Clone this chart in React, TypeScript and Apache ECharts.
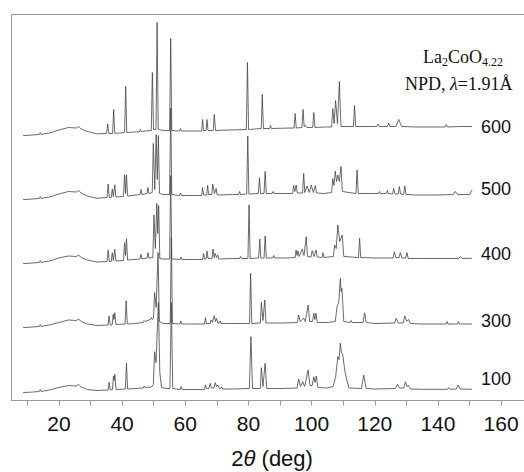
import React, { useEffect, useRef } from "react";
import * as echarts from "echarts";

// 2θ (deg) vs intensity (arbitrary units, relative to each trace's offset)
const traceNames = ["600", "500", "400", "300", "100"];
const traceOffsets = [265, 201, 137, 73, 8];
const labelShift = [0, -1, -4, -3.5, -10];

const xTicks = [10, 20, 30, 40, 50, 60, 70, 80, 90, 100, 110, 120, 130, 140, 150, 160];
const xTickLabels = [20, 40, 60, 80, 100, 120, 140, 160];

const trace600: [number, number][] = [
  [8.7,0],[11,0.3],[13.8,1],[14.1,3],[14.4,1],[17,2.5],[20,5.5],[23,8],[25.5,7.5],[26.3,9],[27,6.5],[29,4],[32,1.7],
  [35.1,2],[35.45,11.7],[35.8,2],[37.0,2],[37.35,26],[37.7,2.2],[39.5,2.5],[40.8,3],[41.15,49],[41.5,3],[44,3.5],
  [45.5,3.8],[45.8,6],[46.1,4],[48.8,5],[49.25,5],[49.6,63],[49.95,6],[50.75,6],[51.1,113],[51.45,6],[53,5],
  [55.05,5],[55.4,97],[55.75,5],[58.2,4.5],[58.5,7],[58.8,4.5],[62,4.5],[65.2,4.5],[65.5,16],[65.8,5],[66.6,5],
  [66.9,16],[67.2,5],[68.85,5],[69.2,21],[69.6,5],[74,5.5],[79.35,6],[79.7,73],[80.05,6],[84.05,7],[84.4,41],
  [84.75,7],[86.7,7],[87,10],[87.3,7],[91,7.3],[94.45,7.5],[94.8,22],[95.15,7.5],[96.95,8],[97.3,26],[97.65,9],
  [98.1,10],[98.5,8],[100.35,8],[100.7,23],[101.05,8],[104,8.5],[106.35,8.5],[106.7,27],[107.15,12],[107.6,35],
  [108.2,12],[108.8,54],[109.3,9],[113.25,9],[113.6,30],[113.95,9],[118,9],[120.6,9],[121,11.5],[121.4,9],[124,9],
  [124.4,12.5],[124.8,9],[126.7,9],[127.6,16],[128.5,9],[133,8.5],[140,8.5],[142.2,8.5],[142.6,11],[143,8.5],
  [147,9],[150.8,9],
];

const trace500: [number, number][] = [
  [8.7,0],[11,0.3],[13.8,1],[14.1,3],[14.4,1],[17,2.5],[20,5.5],[23,8],[25.5,7.5],[26.3,9],[27,6.5],[29,3.5],[32,1.2],
  [35.25,2],[35.6,15.5],[35.95,2],[36.6,2],[36.9,10.5],[37.25,3],[37.7,14.8],[38.05,2.5],[40.45,3],[40.8,24.8],
  [41.1,6],[41.4,24.8],[41.75,3.5],[45.7,5],[46.0,10],[46.3,5],[47.9,6],[48.2,12],[48.5,6],[49.55,7],[49.9,56],
  [50.35,10],[50.8,65],[51.15,20],[51.5,64],[51.85,6],[53,5],[55.05,5],[55.4,91.5],[55.75,5],[58.2,4],[58.5,6.5],
  [58.8,4],[62,4],[65.2,4],[65.5,12],[65.8,4.5],[66.8,4.5],[67.1,14],[67.4,5],[68.4,5],[68.7,15.5],[69.25,6],
  [69.8,11],[70.1,4.5],[75,5],[76.9,5],[77.2,8],[77.5,5],[79.45,5.5],[79.8,63.5],[80.15,5.5],[83.15,6],[83.5,21.5],
  [83.85,6],[84.95,6],[85.3,28],[85.65,6],[87.5,6],[87.8,8],[88.1,6],[92,6],[94.0,6],[94.3,14],[94.7,8],[95.1,14.5],
  [95.45,6.5],[97.15,6.5],[97.5,26],[97.85,7],[98.6,13.5],[99.25,7],[99.9,14.5],[100.55,7],[101.2,14],[101.55,6.5],
  [104,6],[106.35,7],[106.7,21],[107.1,14],[107.5,28.5],[107.9,18],[108.3,24.5],[108.8,18],[109.3,33],[109.75,8],
  [114.05,6],[114.4,29.5],[114.75,6],[118,6],[121.2,6],[121.5,8],[121.8,6],[123.7,6],[124,9],[124.3,6],[125.65,5.5],
  [126.0,11],[126.45,5.5],[127.45,5.5],[127.8,13],[128.15,5.5],[129.15,5],[129.5,13.5],[129.9,5],[133,4.5],[140,4.5],
  [144.8,5],[145.5,8],[146.2,5],[150,5],[150.8,9.5],
];

const trace400: [number, number][] = [
  [8.7,0],[11,0.3],[13.8,1],[14.1,3],[14.4,1],[17,2.5],[20,5.5],[23,7.5],[25.5,7],[26.3,8.5],[27,6],[29,3.5],[32,1.5],
  [35.25,2],[35.6,13.5],[35.95,2],[36.6,2],[36.9,10.8],[37.25,3],[37.7,14.2],[38.05,2.5],[40.45,3],[40.8,20.8],
  [41.1,8],[41.4,24.8],[41.75,3.5],[45.7,4.5],[46.0,9.2],[46.3,4.5],[47.9,5.5],[48.2,10.8],[48.5,5.5],[49.75,6],
  [50.1,48.5],[50.55,15],[51.0,60],[51.3,30],[51.6,58],[51.95,5],[53,4.5],[55.05,4.5],[55.4,88],[55.75,4.5],
  [58.4,4],[58.7,6.5],[59,4],[62,4],[65.5,4],[65.8,10.2],[66.1,4.5],[66.6,4.5],[66.9,12.5],[67.2,5],[68.5,5],
  [68.8,14.5],[69.15,6],[69.5,10],[69.9,6],[70.3,8.5],[70.6,4.5],[75,5],[77.2,5],[77.5,7],[77.8,5],[79.85,5],
  [80.2,58.5],[80.55,5],[83.25,5.5],[83.6,24.5],[83.95,5.5],[84.95,5.5],[85.3,27.5],[85.65,5.5],[87.7,5.5],[88,8],
  [88.3,5.5],[92,5.5],[94.8,6],[95.1,13.5],[95.4,8],[95.7,12.5],[96.1,7],[97.0,14.2],[97.6,8],[98.3,26.8],[98.7,7],
  [99.8,6.5],[100.2,12.8],[100.8,7],[101.4,13.5],[101.8,6.5],[103.3,6],[103.6,10.8],[103.9,6],[106.9,7],[107.3,18.5],
  [107.8,15],[108.3,38.5],[108.9,22],[109.7,28.5],[110.2,7],[114.85,6],[115.2,25.2],[115.55,6],[120,5.5],[125.8,5.5],
  [126.2,11.8],[126.7,6],[127.7,6],[128.1,10.8],[128.6,5.5],[129.8,5.5],[130.2,10.8],[130.6,5],[135,5],[143,5],
  [146.5,5],[147.1,7],[147.7,5],[150.8,5.2],
];

const trace300: [number, number][] = [
  [8.7,0],[11,0.3],[13.8,1],[14.1,3],[14.4,1],[17,2.5],[20,5],[23,7.5],[25.5,7],[26.3,8.5],[27,6],[29,3.5],[32,2],
  [35.55,2.5],[35.9,11.5],[36.25,2.5],[36.85,2.5],[37.2,13.2],[37.45,8],[37.7,14.8],[38.05,3],[40.95,3.5],[41.3,26.8],
  [41.65,3.5],[44,4],[46.7,5],[47,7],[47.3,6],[48.5,7.5],[49.0,8],[49.3,10],[49.6,8],[49.95,9],[50.3,35],[50.8,20],
  [51.4,75],[51.8,6],[53,4],[55.25,4],[55.6,90],[55.95,4],[58.3,3.5],[58.6,6.5],[58.9,3.5],[62,3.5],[66.1,3.5],
  [66.4,9.8],[66.7,4],[67.9,4],[68.2,7.5],[68.6,5],[69.2,11.8],[69.55,6],[69.9,9.2],[70.3,4.5],[70.8,4.5],[71.1,6.5],
  [71.4,4],[75,4],[80.35,4],[80.7,54.2],[81.05,4],[83.75,4.5],[84.1,25.2],[84.6,7],[85.2,27.5],[85.55,4.5],[91,4.5],
  [95.5,5],[95.9,12.5],[96.4,6],[97.5,9.2],[98.0,6],[98.9,22.5],[99.4,6],[100.3,6],[100.7,14.2],[101.05,8],
  [101.4,14.2],[101.8,5],[105,5],[107.5,6],[108.1,21.5],[108.6,25],[109.1,49.2],[109.35,36],[109.6,39.2],[110.2,6],
  [112.2,5],[112.5,7],[112.8,5],[116.3,5],[116.8,14.8],[117.3,5],[120,4],[126.3,4.5],[126.8,9.2],[127.4,4.5],
  [129.0,4.5],[129.5,11.5],[130.1,6],[130.7,8],[131.3,4],[135,3.5],[142.6,3.5],[142.9,6],[143.2,3.5],[146.2,3.5],
  [146.5,6],[146.8,3.5],[150.8,3.5],
];

const trace100: [number, number][] = [
  [8.7,0],[11,0.3],[13.8,1],[14.1,3],[14.4,1],[17,2.5],[20,5],[23,7],[25.5,6.5],[26.3,8],[27,5.5],[29,3],[32,2],
  [35.55,2.5],[35.9,10.2],[36.25,2.5],[36.95,3],[37.3,16.5],[37.5,12],[37.7,18.2],[38.1,3],[41.05,3.5],[41.4,29.2],
  [41.75,3.5],[44,4],[46.7,4.5],[47,6.5],[47.3,5],[49.3,5.5],[49.9,8],[50.3,40.8],[50.75,30],[51.5,90],[51.95,20],
  [52.5,5],[54,4],[55.15,4],[55.6,90],[56.05,4],[58.4,3],[58.7,6],[59,3],[62,3],[66.1,3],[66.4,7.5],[66.8,4],[67.5,4],
  [67.9,9.2],[68.3,4.5],[69.1,4.5],[69.5,9.8],[69.9,6],[70.3,7.5],[70.8,4],[71.2,4],[71.5,5.5],[71.9,3.5],[75,3.5],
  [80.3,4],[80.8,55.8],[81.3,4],[83.75,4],[84.1,24.8],[84.6,6],[85.3,29.2],[85.8,4],[91,4],[95.4,4.5],[95.9,13.5],
  [96.5,6],[97.2,10.8],[97.8,6],[98.9,22.5],[99.5,7],[100.2,7],[100.7,15.8],[101.1,10],[101.5,16.5],[102,5],[105,4.5],
  [106.8,6],[107.6,15],[108.3,35.8],[108.7,33],[109.1,49.2],[109.45,40],[109.8,39.2],[110.6,20],[111.8,4.5],
  [115.8,4],[116.5,17.5],[117.3,4],[120,3.5],[126.5,4],[127.2,8.2],[127.8,4.5],[129.2,4.5],[129.7,10.8],[130.2,6],
  [130.7,7],[131.3,3.5],[135,3.2],[143,3.2],[143.4,5],[143.8,3.2],[145.8,3.5],[146.4,7.5],[147,3.5],[150.8,3.2],
];

const traces = [trace600, trace500, trace400, trace300, trace100];

const GREY = "#9a9a9a";
const SANS = "Liberation Sans, Arial, sans-serif";
const SERIF = "Liberation Serif, Times New Roman, serif";

export default function App() {
  const ref = useRef<HTMLDivElement>(null);

  useEffect(() => {
    if (!ref.current) return;
    const chart = echarts.init(ref.current, undefined, { renderer: "svg" });
    const option: any = {
      animation: false,
      grid: {
        left: 11.5,
        top: 14.5,
        width: 521.2,
        height: 386,
        show: true,
        borderColor: GREY,
        borderWidth: 1,
        containLabel: false,
        outerBoundsMode: "none",
      },
      xAxis: {
        type: "value",
        min: 5,
        max: 170,
        axisLine: { show: true, lineStyle: { color: GREY, width: 1 } },
        axisTick: {
          show: true,
          inside: false,
          length: 5,
          customValues: xTicks,
          lineStyle: { color: GREY, width: 1 },
        },
        axisLabel: {
          show: true,
          customValues: xTickLabels,
          fontSize: 21,
          fontFamily: SANS,
          color: "#111",
          margin: 12,
        },
        splitLine: { show: false },
        name: "2{i|θ} (deg)",
        nameLocation: "middle",
        nameGap: 47,
        nameTextStyle: {
          fontSize: 22,
          fontFamily: SANS,
          color: "#111",
          rich: {
            i: { fontSize: 22, fontFamily: SANS, fontStyle: "italic", color: "#111" },
          },
        },
      },
      yAxis: { type: "value", min: 0, max: 386, show: false },
      series: traces.map((tr, k) => ({
        type: "line",
        name: traceNames[k],
        data: tr.map(([x, y]) => [x, y + traceOffsets[k]]),
        showSymbol: false,
        symbol: "none",
        lineStyle: { color: "#444", width: 0.8 },
        endLabel: {
          show: true,
          formatter: traceNames[k],
          distance: 9,
          offset: [0, labelShift[k]],
          fontSize: 18,
          fontFamily: SANS,
          color: "#111",
        },
        silent: true,
      })),
      graphic: [
        {
          type: "text",
          left: 423,
          top: 48,
          style: {
            text: "{n|La}{s|2}{n|CoO}{s|4.22}",
            rich: {
              n: { fontSize: 18, fontFamily: SERIF, fill: "#111" },
              s: { fontSize: 12, fontFamily: SERIF, fill: "#111", padding: [9, 0, 0, 0] },
            },
          },
        },
        {
          type: "text",
          left: 405,
          top: 75,
          style: {
            text: "NPD, {g|λ}=1.91Å",
            fontSize: 18,
            fontFamily: SERIF,
            fill: "#111",
            rich: {
              g: { fontSize: 18, fontFamily: SERIF, fontStyle: "italic", fill: "#111" },
            },
          },
        },
      ],
    };
    chart.setOption(option);
    return () => chart.dispose();
  }, []);

  return (
    <div
      ref={ref}
      style={{ position: "absolute", left: 0, top: 0, width: 524, height: 472 }}
    />
  );
}
